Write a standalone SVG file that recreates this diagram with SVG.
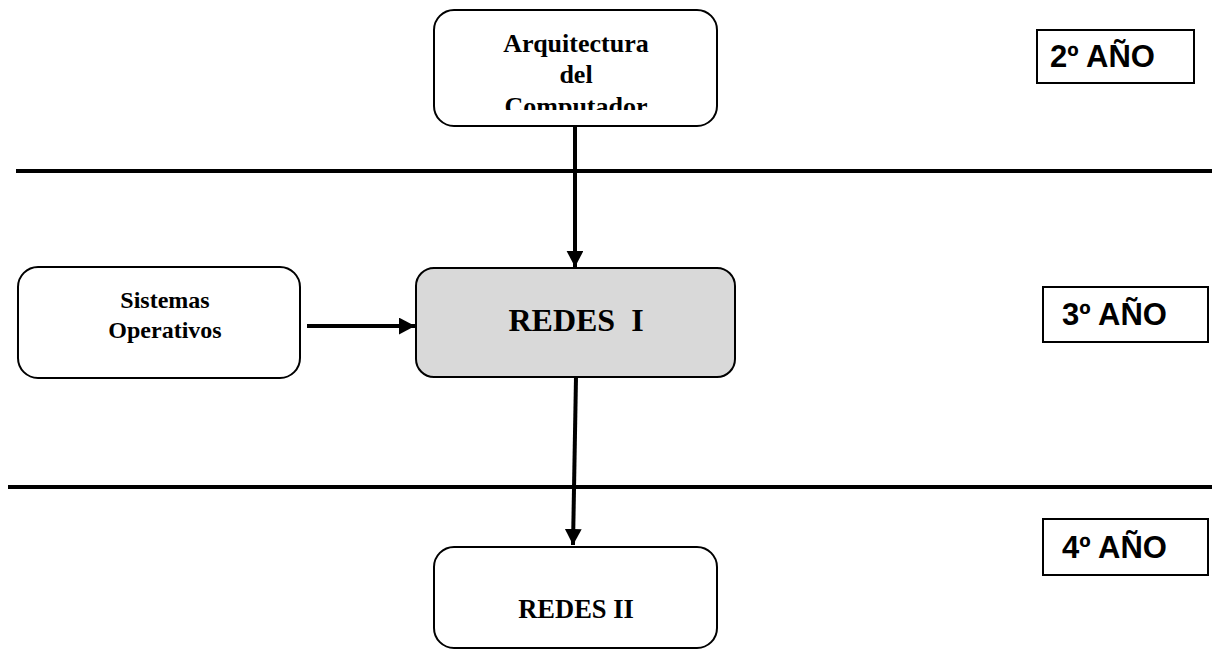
<svg xmlns="http://www.w3.org/2000/svg" width="1212" height="650" viewBox="0 0 1212 650">
<style>
.node{fill:#fff;stroke:#000;stroke-width:2}
.grey{fill:#d9d9d9}
.t{font-family:"Liberation Serif","Times New Roman",serif;font-weight:bold;fill:#000;text-anchor:middle}
.yr{fill:#fff;stroke:#000;stroke-width:2}
.yt{font-family:"Liberation Sans",Arial,sans-serif;font-weight:bold;font-size:31px;fill:#000}
.sep{stroke:#000;stroke-width:4}
.conn{stroke:#000;stroke-width:4;fill:none}
</style>
<defs>
<marker id="ah" markerWidth="5" markerHeight="5" refX="4" refY="2.1" orient="auto" markerUnits="strokeWidth">
<path d="M0,0 L4,2.1 L0,4.2 Z" fill="#000"/>
</marker>
<clipPath id="clipA"><rect x="434" y="10" width="283" height="100"/></clipPath>
</defs>
<g id="separators">
<line class="sep" x1="16" y1="171" x2="1212" y2="171"/>
<line class="sep" x1="8" y1="487" x2="1212" y2="487"/>
</g>
<g id="year2">
<rect class="yr" x="1037" y="30" width="157" height="53"/>
<text class="yt" x="1050" y="67">2º AÑO</text>
</g>
<g id="year3">
<rect class="yr" x="1043" y="287" width="165" height="55"/>
<text class="yt" x="1062" y="325">3º AÑO</text>
</g>
<g id="year4">
<rect class="yr" x="1043" y="519" width="165" height="56"/>
<text class="yt" x="1062" y="558">4º AÑO</text>
</g>
<g id="connectors">
<line class="conn" x1="575" y1="126" x2="575" y2="267" marker-end="url(#ah)"/>
<line class="conn" x1="307" y1="326" x2="415" y2="326" marker-end="url(#ah)"/>
<line class="conn" x1="576" y1="377" x2="573" y2="545" marker-end="url(#ah)"/>
</g>
<g id="arquitectura">
<rect class="node" x="434" y="10" width="283" height="116" rx="20"/>
<g clip-path="url(#clipA)">
<text class="t" font-size="26" x="576" y="52">Arquitectura</text>
<text class="t" font-size="26" x="576" y="83">del</text>
<text class="t" font-size="26" x="576" y="115">Computador</text>
</g>
</g>
<g id="sistemas">
<rect class="node" x="18" y="267" width="282" height="111" rx="20"/>
<text class="t" font-size="24" x="165" y="308">Sistemas</text>
<text class="t" font-size="24" x="165" y="338">Operativos</text>
</g>
<g id="redes1">
<rect class="node grey" x="416" y="268" width="319" height="109" rx="18"/>
<text class="t" font-size="32" x="576" y="331" xml:space="preserve">REDES  I</text>
</g>
<g id="redes2">
<rect class="node" x="434" y="547" width="283" height="101" rx="20"/>
<text class="t" font-size="26.5" x="576" y="618">REDES II</text>
</g>
</svg>
